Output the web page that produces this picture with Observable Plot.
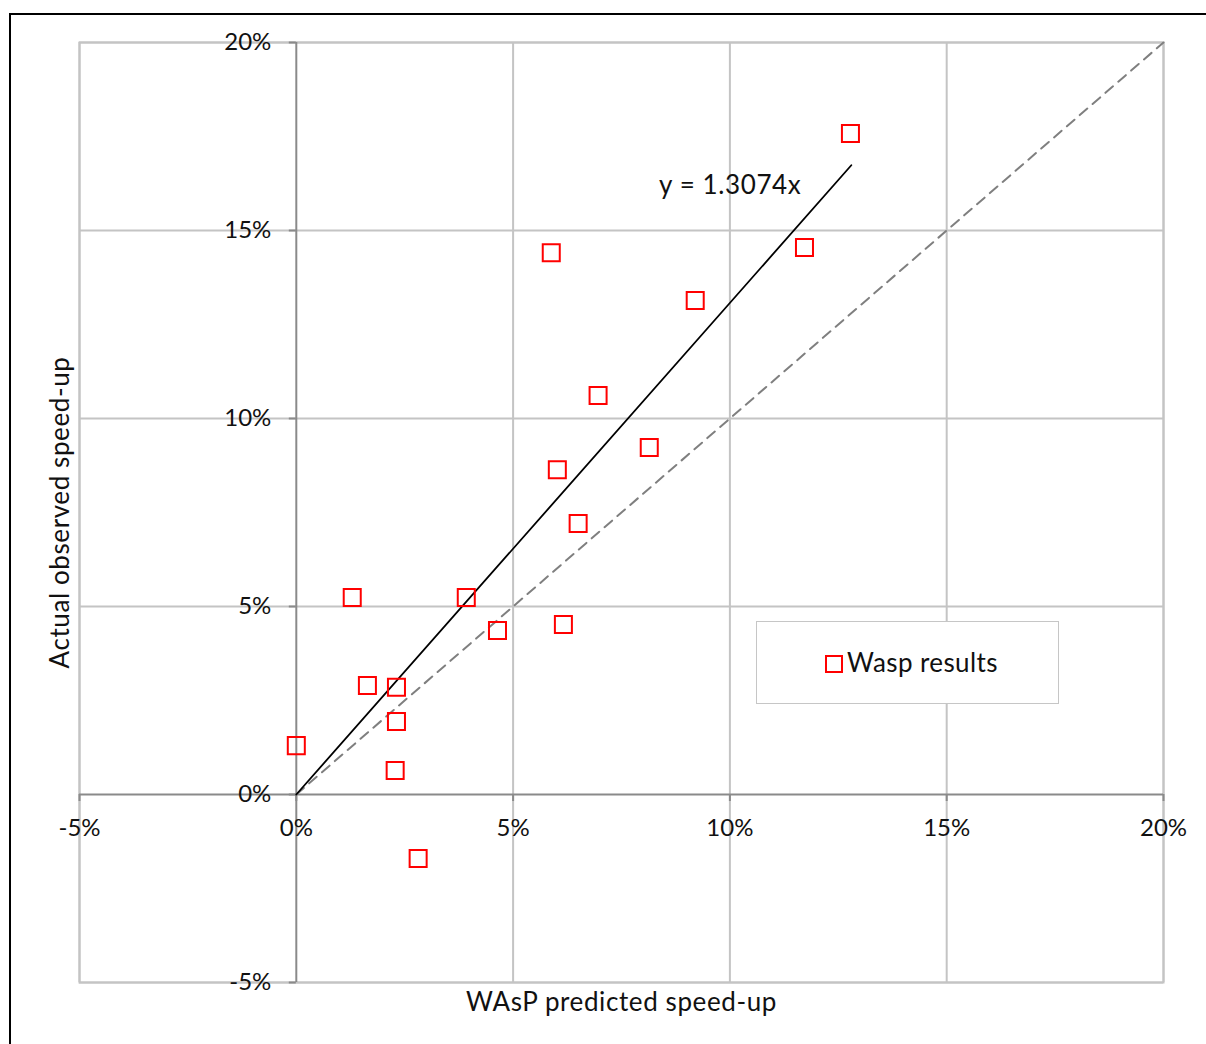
<!DOCTYPE html>
<html>
<head>
<meta charset="utf-8">
<script src="https://cdn.jsdelivr.net/npm/d3@7"></script>
<script src="https://cdn.jsdelivr.net/npm/@observablehq/plot@0.6"></script>
<style>
  html, body { margin: 0; padding: 0; background: #fff; overflow: hidden; }
  #wrap { position: relative; width: 1206px; height: 1044px; font-family: Lato, "Noto Sans", sans-serif; }
  #frame { position: absolute; left: 9px; top: 13px; width: 1300px; height: 1200px; border-top: 2px solid #000; border-left: 2px solid #000; box-sizing: border-box; pointer-events: none; }
  #chart { position: absolute; left: 0; top: 0; }
  #legend { position: absolute; left: 756px; top: 621px; width: 303px; height: 83px; box-sizing: border-box; border: 1.5px solid #c6c6c6; background: #fff; display: flex; align-items: center; justify-content: center; padding-left: 8px; font-size: 26px; letter-spacing: 0.4px; color: #111; }
  #legend .sw { display: inline-block; width: 14px; height: 14px; border: 2px solid #ff0000; margin-right: 4px; position: relative; top: 1px; }
  #legend .lbl { position: relative; top: -1px; }
</style>
</head>
<body>
<div id="wrap">
  <div id="chart"></div>
  <div id="legend"><span class="sw"></span><span class="lbl" id="legendLabel"></span></div>
  <div id="frame"></div>
</div>
<script>
// Data (percent)
const predicted = [0.0, 1.29, 1.64, 2.31, 2.31, 2.28, 2.81, 3.92, 4.64, 5.88, 6.02, 6.16, 6.50, 6.96, 8.14, 9.20, 11.72, 12.78];
const observed  = [1.30, 5.24, 2.90, 2.85, 1.94, 0.64, -1.70, 5.24, 4.36, 14.41, 8.64, 4.52, 7.21, 10.61, 9.23, 13.14, 14.55, 17.58];
const xTicks = [-5, 0, 5, 10, 15, 20];
const yTicks = [-5, 0, 5, 10, 15, 20];
const slope = 1.3074;
const trendX = [0, 12.8];
const identityX = [0, 20];
const trendLabel = "y = 1.3074x";
const xTitle = "WAsP predicted speed-up";
const yTitle = "Actual observed speed-up";
const seriesName = "Wasp results";

document.getElementById("legendLabel").textContent = seriesName;

const points = predicted.map((x, i) => ({x, y: observed[i]}));
const trend = trendX.map(x => ({x, y: slope * x}));
const identity = identityX.map(x => ({x, y: x}));
const fmt = d => d + "%";
const gridColor = "#c4c4c4";
const axisColor = "#8a8a8a";

const chart = Plot.plot({
  width: 1206,
  height: 1044,
  marginLeft: 79,
  marginRight: 43,
  marginTop: 42,
  marginBottom: 62,
  style: {fontFamily: "Lato, 'Noto Sans', sans-serif", fontSize: "24px", color: "#111", background: "transparent"},
  x: {domain: [-5, 20], axis: null},
  y: {domain: [-5, 20], axis: null},
  marks: [
    Plot.frame({stroke: gridColor, strokeWidth: 2}),
    Plot.gridX(xTicks.filter(d => d !== 0), {stroke: gridColor, strokeOpacity: 1, strokeWidth: 2}),
    Plot.gridY(yTicks.filter(d => d !== 0), {stroke: gridColor, strokeOpacity: 1, strokeWidth: 2}),
    // axes through origin
    Plot.ruleX([0], {stroke: axisColor, strokeWidth: 2}),
    Plot.ruleY([0], {stroke: axisColor, strokeWidth: 2}),
    // tick marks on the axes
    Plot.ruleY(yTicks, {y: d => d, x1: 0, x2: 0, insetLeft: -7, stroke: axisColor, strokeWidth: 2}),
    Plot.ruleX(xTicks, {x: d => d, y1: 0, y2: 0, insetBottom: -7, stroke: axisColor, strokeWidth: 2}),
    // tick labels
    Plot.text(yTicks, {x: 0, y: d => d, text: fmt, textAnchor: "end", dx: -25, fill: "#111", fontSize: 24}),
    Plot.text(xTicks, {x: d => d, y: 0, text: fmt, textAnchor: "middle", dy: 34, fill: "#111", fontSize: 24}),
    // identity dashed
    Plot.line(identity, {x: "x", y: "y", stroke: "#7f7f7f", strokeWidth: 2, strokeDasharray: "10,7"}),
    // trend line
    Plot.line(trend, {x: "x", y: "y", stroke: "#000", strokeWidth: 1.8}),
    Plot.text([trendLabel], {x: trendX[1], y: slope * trendX[1], text: d => d, textAnchor: "end", dx: -50, dy: 20, fill: "#111", fontSize: 26}),
    // points
    Plot.dot(points, {x: "x", y: "y", symbol: "square", r: 9.6, stroke: "#ff0000", strokeWidth: 2, fill: "none"}),
    // axis titles
    Plot.text([xTitle], {frameAnchor: "bottom", text: d => d, textAnchor: "middle", dy: 28, fill: "#111", fontSize: 26}),
    Plot.text([yTitle], {frameAnchor: "left", text: d => d, textAnchor: "middle", rotate: -90, dx: -19, fill: "#111", fontSize: 26})
  ]
});
chart.querySelectorAll("text").forEach(t => {
  const s = t.getAttribute("font-size") || (t.parentNode && t.parentNode.getAttribute && t.parentNode.getAttribute("font-size"));
  if (s === "26") t.setAttribute("letter-spacing", "0.6");
});
document.getElementById("chart").appendChild(chart);
</script>
</body>
</html>
